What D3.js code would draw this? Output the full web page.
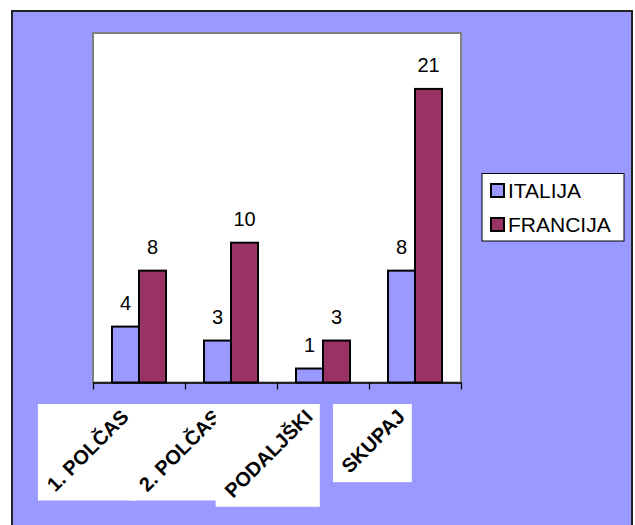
<!DOCTYPE html>
<html>
<head>
<meta charset="utf-8">
<script src="https://cdn.jsdelivr.net/npm/d3@7"></script>
<style>
  html, body { margin: 0; padding: 0; background: #ffffff; }
  svg { display: block; }
</style>
</head>
<body>
<script>
// ---- data ----
const categories = ["1. POLČAS", "2. POLČAS", "PODALJŠKI", "SKUPAJ"];
const seriesNames = ["ITALIJA", "FRANCIJA"];
const italija = [4, 3, 1, 8];
const francija = [8, 10, 3, 21];
const seriesColors = ["#9999FF", "#993366"];

const W = 635, H = 525;
const svg = d3.select("body").append("svg").attr("width", W).attr("height", H);

// outer chart frame
svg.append("rect")
  .attr("x", 12).attr("y", 11).attr("width", 620).attr("height", 540)
  .attr("fill", "#9999FF").attr("stroke", "#222").attr("stroke-width", 2);

const plot = { left: 93, right: 461, top: 33, bottom: 382.5 };

// plot area
svg.append("rect")
  .attr("x", plot.left).attr("y", plot.top)
  .attr("width", plot.right - plot.left).attr("height", plot.bottom - plot.top)
  .attr("fill", "#fff").attr("stroke", "#808080").attr("stroke-width", 2);

const x = d3.scaleBand().domain(categories).range([plot.left, plot.right]).padding(0);
const xs = d3.scaleBand().domain(seriesNames).range([19, x.bandwidth() - 19]).padding(0);
const y = d3.scaleLinear().domain([0, 25]).range([plot.bottom, plot.top]);

const rows = categories.map((c, i) => ({ cat: c, values: [italija[i], francija[i]] }));

const groups = svg.append("g").selectAll("g").data(rows).join("g")
  .attr("transform", d => `translate(${x(d.cat)},0)`);

groups.selectAll("rect").data(d => d.values.map((v, j) => ({ v, s: seriesNames[j], j })))
  .join("rect")
  .attr("x", d => xs(d.s))
  .attr("y", d => y(d.v))
  .attr("width", xs.bandwidth())
  .attr("height", d => y(0) - y(d.v))
  .attr("fill", d => seriesColors[d.j])
  .attr("stroke", "#000").attr("stroke-width", 2);

groups.selectAll("text.val").data(d => d.values.map((v, j) => ({ v, s: seriesNames[j] })))
  .join("text").attr("class", "val")
  .attr("x", d => xs(d.s) + xs.bandwidth() / 2)
  .attr("y", d => y(d.v) - 17)
  .attr("text-anchor", "middle")
  .attr("font-family", "Arial, 'Liberation Sans', sans-serif")
  .attr("font-size", 20)
  .attr("fill", "#000")
  .text(d => d.v);

// x axis with ticks at category boundaries
const xb = d3.scaleLinear().domain([0, categories.length]).range([plot.left, plot.right]);
const axis = svg.append("g").attr("transform", `translate(0,${plot.bottom})`)
  .call(d3.axisBottom(xb).ticks(categories.length).tickSize(7).tickSizeOuter(0).tickFormat(""));
axis.select(".domain").attr("stroke", "#000").attr("stroke-width", 1.5);
axis.selectAll(".tick line").attr("stroke", "#000").attr("stroke-width", 1.2);

// category labels in white boxes, rotated -45°
const labG = svg.append("g");
categories.forEach(c => {
  const cx = x(c) + x.bandwidth() / 2;
  const g = labG.append("g");
  const box = g.append("rect").attr("fill", "#fff");
  const t = g.append("text")
    .attr("transform", `translate(${cx - 9},418) rotate(-45)`)
    .attr("text-anchor", "end")
    .attr("font-family", "Arial, 'Liberation Sans', sans-serif")
    .attr("font-weight", "bold")
    .attr("font-size", 20)
    .attr("fill", "#000")
    .text(c);
  const bb = t.node().getBoundingClientRect();
  const top = 404;
  box.attr("x", bb.left - 4).attr("y", top)
    .attr("width", bb.right - bb.left + 7)
    .attr("height", bb.bottom + 5 - top);
});

// legend
const lg = svg.append("g");
lg.append("rect").attr("x", 482).attr("y", 173.5).attr("width", 142).attr("height", 67.5)
  .attr("fill", "#fff").attr("stroke", "#000").attr("stroke-width", 1);
seriesNames.forEach((s, i) => {
  lg.append("rect").attr("x", 491).attr("y", 184 + i * 34).attr("width", 13).attr("height", 13)
    .attr("fill", seriesColors[i]).attr("stroke", "#000").attr("stroke-width", 2);
  lg.append("text").attr("x", 508).attr("y", 198 + i * 34)
    .attr("font-family", "Arial, 'Liberation Sans', sans-serif")
    .attr("font-size", 21).attr("fill", "#000").text(s);
});
</script>
</body>
</html>
